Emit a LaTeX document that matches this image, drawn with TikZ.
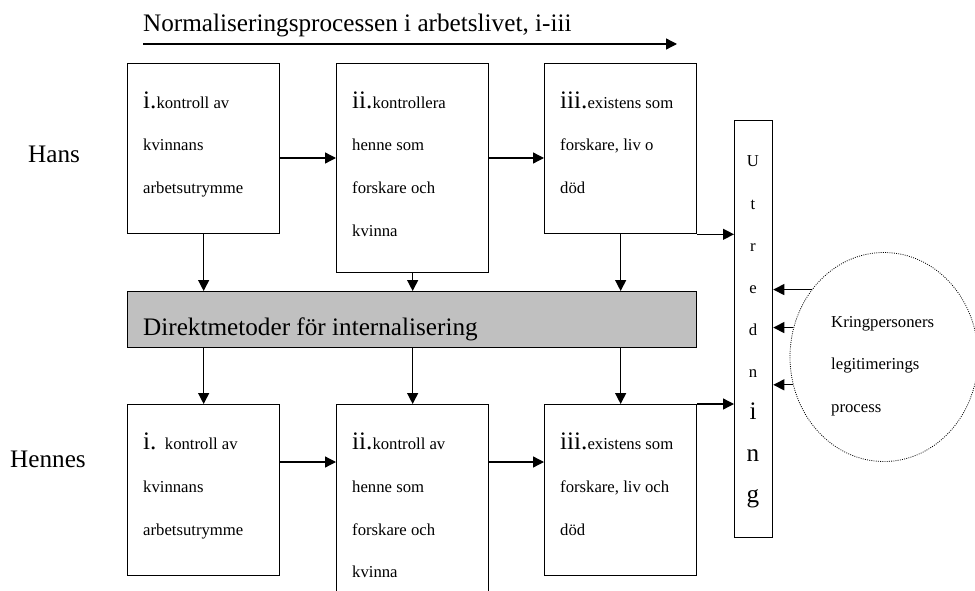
\documentclass[tikz,border=0pt]{standalone}
\usepackage{fontspec}
\setmainfont{Liberation Serif}
\usetikzlibrary{arrows.meta,shapes.geometric}
\newcommand\smf{\fontsize{16.7}{20}\selectfont}
\newcommand\lgf{\fontsize{25.2}{30}\selectfont}
\definecolor{boxgray}{RGB}{192,192,192}
\tikzset{
  boxnode/.style={draw, line width=1.3pt, inner sep=0pt, anchor=north west, minimum width=152pt},
  arr/.style={line width=1.3pt, -{Triangle[length=11pt,width=11pt]}},
  txt/.style={anchor=base west, inner sep=0pt, font=\smf},
  bigtxt/.style={anchor=base west, inner sep=0pt, font=\lgf},
  letter/.style={anchor=base, inner sep=0pt, font=\smf},
  bigletter/.style={anchor=base, inner sep=0pt, font=\lgf},
}
\begin{document}
\begin{tikzpicture}[x=1pt,y=-1pt]
\useasboundingbox (0,0) rectangle (975,591);
\clip (0,0) rectangle (975,591);

% title
\node[bigtxt] (title) at (143,31.7) {Normaliseringsprocessen i arbetslivet, i-iii};
\coordinate (ts) at (143,44);
\coordinate (te) at (677,44);
\draw[arr] (ts) -- (te);

% row labels
\node[bigtxt] (hans) at (28,163) {Hans};
\node[bigtxt] (hennes) at (10,467) {Hennes};

% top row boxes
\node[boxnode, minimum height=170pt] (A1) at (127,63) {};
\node[boxnode, minimum height=209pt] (A2) at (336,63) {};
\node[boxnode, minimum height=170pt] (A3) at (544,63) {};

% gray box
\node[boxnode, fill=boxgray, minimum width=569pt, minimum height=56pt] (G) at (127,291) {};
\node[bigtxt] (gtxt) at (143,335) {Direktmetoder för internalisering};

% bottom row boxes
\node[boxnode, minimum height=171pt] (B1) at (127,404) {};
\node[boxnode, minimum height=210pt] (B2) at (336,404) {};
\node[boxnode, minimum height=171pt] (B3) at (544,404) {};

% Utredning box
\node[draw, line width=1.3pt, inner sep=0pt, anchor=north west, minimum width=38pt, minimum height=417pt] (U) at (734,120) {};

% ellipse
\node[ellipse, draw, line width=0.8pt, dash pattern=on 0.9pt off 1.3pt, inner sep=0pt, minimum width=188pt, minimum height=209pt] (C) at (884,357) {};

% texts in top boxes
\node[txt] (a1l1) at (143,108.5) {{\lgf i.}kontroll av};
\node[txt] (a1l2) at (143,151) {kvinnans};
\node[txt] (a1l3) at (143,193.5) {arbetsutrymme};

\node[txt] (a2l1) at (352,108.5) {{\lgf ii.}kontrollera};
\node[txt] (a2l2) at (352,151) {henne som};
\node[txt] (a2l3) at (352,193.5) {forskare och};
\node[txt] (a2l4) at (352,236) {kvinna};

\node[txt] (a3l1) at (560,108.5) {{\lgf iii.}existens som};
\node[txt] (a3l2) at (560,151) {forskare, liv o};
\node[txt] (a3l3) at (560,193.5) {död};

% texts in bottom boxes
\node[txt] (b1l1) at (143,449) {{\lgf i. }kontroll av};
\node[txt] (b1l2) at (143,492) {kvinnans};
\node[txt] (b1l3) at (143,535) {arbetsutrymme};

\node[txt] (b2l1) at (352,449) {{\lgf ii.}kontroll av};
\node[txt] (b2l2) at (352,492) {henne som};
\node[txt] (b2l3) at (352,535) {forskare och};
\node[txt] (b2l4) at (352,577) {kvinna};

\node[txt] (b3l1) at (560,449) {{\lgf iii.}existens som};
\node[txt] (b3l2) at (560,492) {forskare, liv och};
\node[txt] (b3l3) at (560,535) {död};

% Utredning letters
\node[letter] (u1) at (753,167) {U};
\node[letter] (u2) at (753,209) {t};
\node[letter] (u3) at (753,251) {r};
\node[letter] (u4) at (753,293) {e};
\node[letter] (u5) at (753,335) {d};
\node[letter] (u6) at (753,377) {n};
\node[bigletter] (u7) at (753,419) {i};
\node[bigletter] (u8) at (753,461) {n};
\node[bigletter] (u9) at (753,502) {g};

% circle text
\node[txt] (c1) at (831,327) {Kringpersoners};
\node[txt] (c2) at (831,369.5) {legitimerings};
\node[txt] (c3) at (831,412) {process};

% horizontal arrows
\coordinate (ya) at (0,158);
\coordinate (yb) at (0,462);
\draw[arr] (A1.east |- ya) -- (A2.west |- ya);
\draw[arr] (A2.east |- ya) -- (A3.west |- ya);
\draw[arr] (B1.east |- yb) -- (B2.west |- yb);
\draw[arr] (B2.east |- yb) -- (B3.west |- yb);
\draw[arr] (A3.south east) -- (U.west |- A3.south east);
\draw[arr] (B3.north east) -- (U.west |- B3.north east);

% vertical arrows
\draw[arr] (A1.south) -- (A1.south |- G.north);
\draw[arr] (A2.south) -- (A2.south |- G.north);
\draw[arr] (A3.south) -- (A3.south |- G.north);
\draw[arr] (G.south -| B1.north) -- (B1.north);
\draw[arr] (G.south -| B2.north) -- (B2.north);
\draw[arr] (G.south -| B3.north) -- (B3.north);

% arrows from circle
\draw[arr] (C.137) -- (C.137 -| U.east);
\draw[arr] (C.162) -- (C.162 -| U.east);
\draw[arr] (C.197.5) -- (C.197.5 -| U.east);
\end{tikzpicture}
\end{document}
